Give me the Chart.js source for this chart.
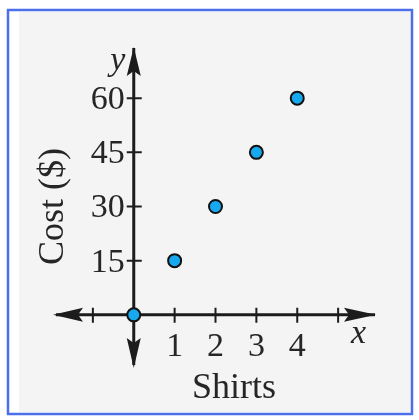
<!DOCTYPE html>
<html>
<head>
<meta charset="utf-8">
<script src="https://cdn.jsdelivr.net/npm/chart.js@4.4.0/dist/chart.umd.min.js"></script>
<style>
  body { margin: 0; background: #fff; }
  canvas { display: block; }
</style>
</head>
<body>
<canvas id="shirtChart" width="419" height="420"></canvas>
<script>
// data
const shirts = [0, 1, 2, 3, 4];
const cost = [0, 15, 30, 45, 60];
const xTickMarks = [-1, 1, 2, 3, 4, 5];
const xTickLabels = [1, 2, 3, 4];
const yTickLabels = [15, 30, 45, 60];

const serif = '"Liberation Serif", "DejaVu Serif", serif';
const ink = '#1c1c1c';

// frame + axes with arrows, drawn through the chart scales
const axesPlugin = {
    id: 'axesPlugin',
    beforeDraw(chart) {
        const ctx = chart.ctx;
        ctx.save();
        ctx.fillStyle = '#ffffff';
        ctx.fillRect(0, 0, chart.width, chart.height);
        ctx.fillStyle = '#f4f4f4';
        ctx.fillRect(19, 12, 392, 400);
        ctx.strokeStyle = '#4a6fe8';
        ctx.lineWidth = 2.5;
        ctx.strokeRect(8, 10, 404, 404);
        ctx.restore();
    },
    beforeDatasetsDraw(chart) {
        const ctx = chart.ctx;
        const xs = chart.scales.x;
        const ys = chart.scales.y;
        const area = chart.chartArea;
        const x0 = xs.getPixelForValue(0);
        const y0 = ys.getPixelForValue(0);

        ctx.save();
        ctx.strokeStyle = ink;
        ctx.fillStyle = ink;
        ctx.lineWidth = 3;

        // axis lines
        ctx.beginPath();
        ctx.moveTo(area.left + 4, y0);
        ctx.lineTo(area.right - 4, y0);
        ctx.moveTo(x0, area.top + 4);
        ctx.lineTo(x0, area.bottom - 4);
        ctx.stroke();

        // tick marks
        ctx.lineWidth = 2;
        ctx.beginPath();
        xTickMarks.forEach(v => {
            const px = xs.getPixelForValue(v);
            ctx.moveTo(px, y0 - 7);
            ctx.lineTo(px, y0 + 8);
        });
        yTickLabels.forEach(v => {
            const py = ys.getPixelForValue(v);
            ctx.moveTo(x0 - 7, py);
            ctx.lineTo(x0 + 8, py);
        });
        ctx.stroke();

        // arrowheads
        function arrow(tx, ty, dx, dy, len, half) {
            const bx = tx - dx * len, by = ty - dy * len;
            const nx = -dy, ny = dx;
            ctx.beginPath();
            ctx.moveTo(tx, ty);
            ctx.lineTo(bx + nx * half, by + ny * half);
            ctx.lineTo(bx + dx * 5, by + dy * 5);
            ctx.lineTo(bx - nx * half, by - ny * half);
            ctx.closePath();
            ctx.fill();
        }
        arrow(area.right - 3, y0, 1, 0, 32, 7);
        arrow(area.left + 1, y0, -1, 0, 30, 7);
        arrow(x0, area.top + 3, 0, -1, 29, 7);
        arrow(x0, area.bottom - 1, 0, 1, 30, 7);

        // tick labels
        ctx.fillStyle = '#262626';
        ctx.font = '34px ' + serif;
        ctx.textAlign = 'right';
        ctx.textBaseline = 'middle';
        yTickLabels.forEach(v => {
            ctx.fillText(String(v), x0 - 9, ys.getPixelForValue(v) + 2);
        });
        ctx.textAlign = 'center';
        ctx.textBaseline = 'alphabetic';
        xTickLabels.forEach(v => {
            ctx.fillText(String(v), xs.getPixelForValue(v), y0 + 41);
        });

        // axis letters
        ctx.font = 'italic 34px ' + serif;
        ctx.fillText('y', x0 - 16, 70);
        ctx.fillText('x', xs.getPixelForValue(5.5), y0 + 28);

        // axis titles
        ctx.font = '36px ' + serif;
        ctx.fillText('Shirts', xs.getPixelForValue(2.45), 398);
        ctx.translate(63, ys.getPixelForValue(30));
        ctx.rotate(-Math.PI / 2);
        ctx.fillText('Cost ($)', 0, 0);
        ctx.restore();
    }
};

const points = shirts.map((s, i) => ({ x: s, y: cost[i] }));

new Chart(document.getElementById('shirtChart'), {
    type: 'scatter',
    data: {
        datasets: [{
            data: points,
            backgroundColor: '#17a9ef',
            borderColor: '#111111',
            borderWidth: 2,
            pointRadius: 6.5,
            pointHoverRadius: 6.5
        }]
    },
    options: {
        responsive: false,
        animation: false,
        clip: false,
        layout: { padding: { left: 52, right: 40, top: 44, bottom: 51 } },
        plugins: { legend: { display: false }, tooltip: { enabled: false } },
        scales: {
            x: { type: 'linear', min: -2, max: 6, display: false },
            y: { type: 'linear', min: -15, max: 75, display: false }
        }
    },
    plugins: [axesPlugin]
});
</script>
</body>
</html>
